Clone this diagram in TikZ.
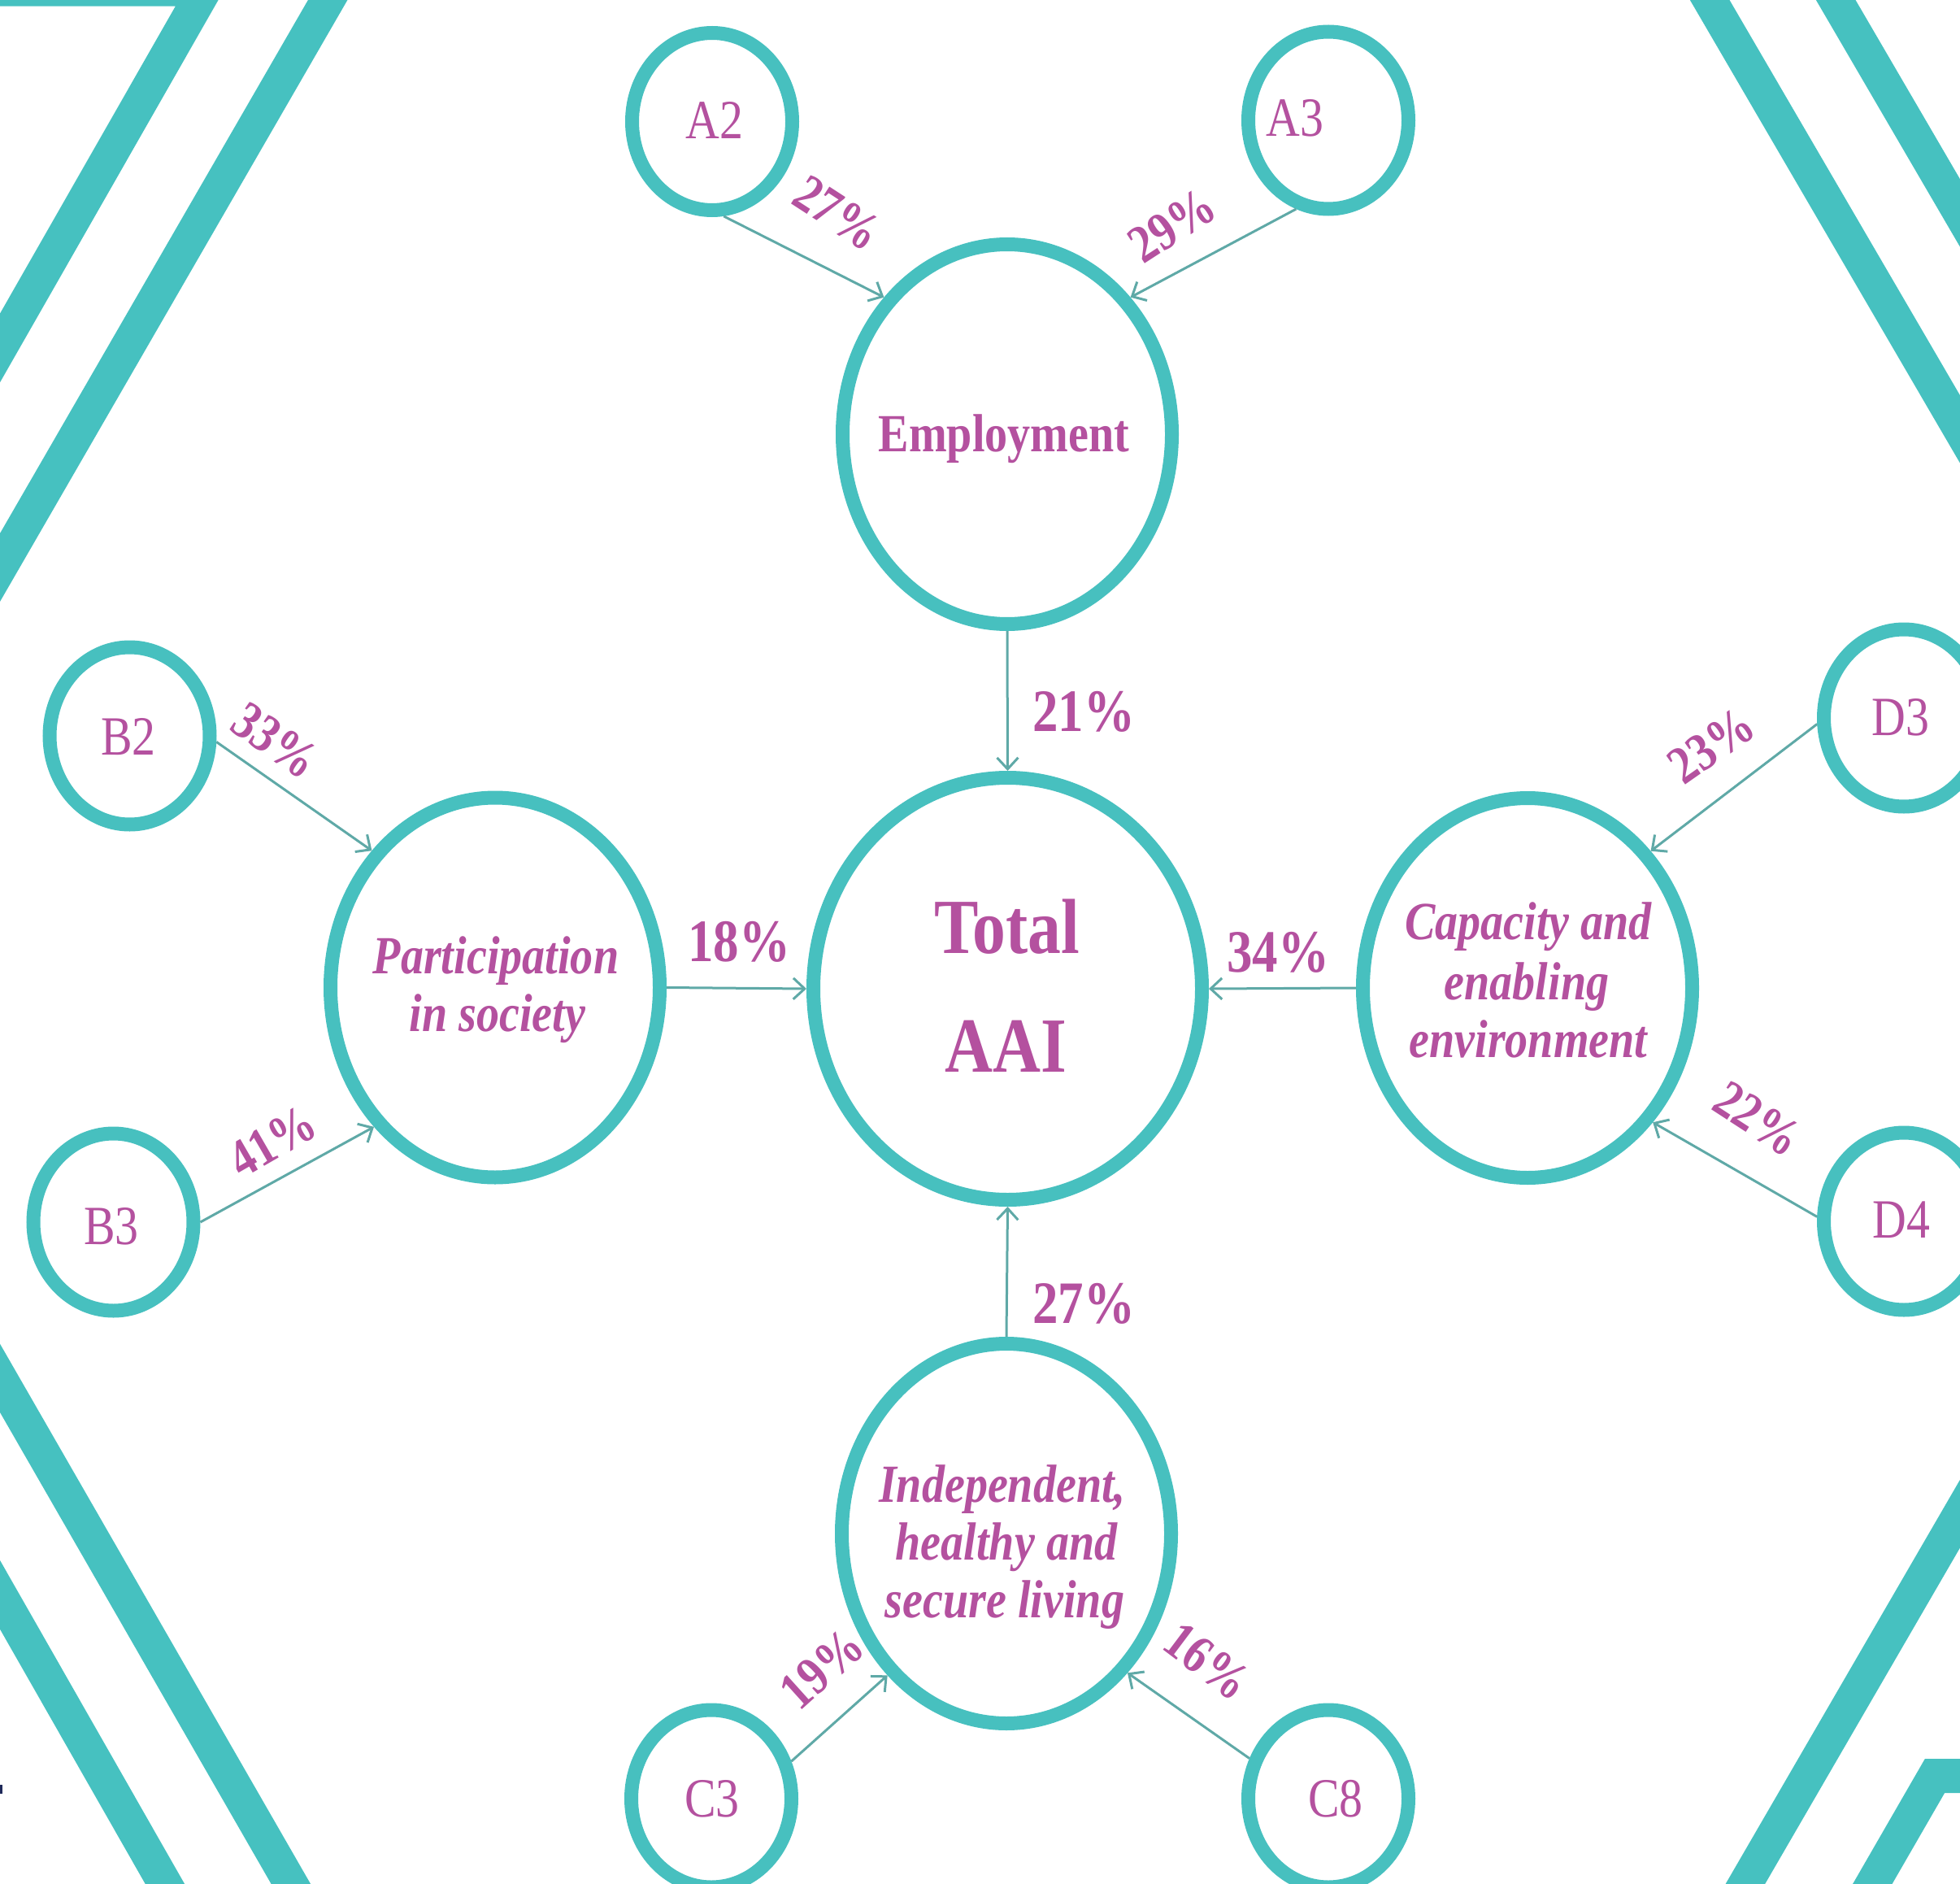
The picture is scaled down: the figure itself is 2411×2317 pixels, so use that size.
\documentclass[tikz,border=0pt]{standalone}
\usepackage{fontspec}
\setmainfont{Liberation Serif}[FakeStretch=0.85]
\usetikzlibrary{shapes.geometric,arrows.meta}
\definecolor{tealband}{HTML}{46C1C0}
\definecolor{ringcol}{HTML}{47C0BF}
\definecolor{mag}{HTML}{B4519F}
\definecolor{arrcol}{HTML}{5FA9A7}
\definecolor{navytick}{HTML}{1F2A5A}
\begin{document}
\begin{tikzpicture}[x=0.5pt,y=-0.5pt,
  bg/.style={draw=tealband,line width=21pt,line join=miter,miter limit=20},
  ring/.style={ellipse,draw=ringcol,line width=8.5pt,inner sep=0pt,fill=white},
  smallring/.style={ring,minimum width=98.5pt,minimum height=109pt},
  midring/.style={ring,minimum width=202.5pt,minimum height=233.5pt},
  bigring/.style={ring,minimum width=239pt,minimum height=259.5pt},
  conn/.style={draw=arrcol,line width=1.5pt,-{Straight Barb[length=7pt,width=13pt]}},
  codelbl/.style={text=mag,inner sep=0pt,anchor=base,font=\fontsize{34}{40}\selectfont},
  cattxt/.style={text=mag,inner sep=0pt,anchor=base,font=\fontsize{33}{40}\selectfont\bfseries\itshape},
  emptxt/.style={text=mag,inner sep=0pt,anchor=base,font=\fontsize{33}{40}\selectfont\bfseries},
  totaltxt/.style={text=mag,inner sep=0pt,anchor=base,font=\fontsize{48}{56}\selectfont\bfseries},
  pct/.style={text=mag,inner sep=0pt,anchor=base,font=\fontsize{37}{42}\selectfont\bfseries},
  rpct/.style={text=mag,inner sep=0pt,font=\fontsize{33}{38}\selectfont\bfseries}]
\useasboundingbox (0,0) rectangle (2411,2317);
% background bands
\begin{scope}
\clip (0,0) rectangle (2411,2317);
\draw[bg] (-100,-13.3) -- (252,-13.3) -- (-100,603);
\draw[bg] (450,-81) -- (-100,871);
\draw[bg] (-100,1521) -- (420,2425);
\draw[bg] (-100,1786) -- (260,2417);
\draw[bg] (2060,-74) -- (2470,629);
\draw[bg] (2215,-74) -- (2470,363);
\draw[bg] (2470,1760) -- (2090,2415);
\draw[bg] (2245,2418) -- (2380,2184) -- (2500,2184);
\fill[navytick] (0,2195) rectangle (3,2206);
\end{scope}
% rings
\node[midring] (Emp) at (1239,534) {};
\node[bigring] (Tot) at (1239.5,1216) {};
\node[midring] (Part) at (609,1214.5) {};
\node[midring] (Cap) at (1879,1215) {};
\node[midring] (Ind) at (1238,1886) {};
\node[smallring] (A2) at (876,149.5) {};
\node[smallring] (A3) at (1634,148) {};
\node[smallring] (B2) at (159.5,905) {};
\node[smallring] (B3) at (139.5,1503) {};
\node[smallring] (D3) at (2342,883) {};
\node[smallring] (D4) at (2342,1502) {};
\node[smallring] (C3) at (875,2212) {};
\node[smallring] (C8) at (1634,2212) {};
% texts
\node[emptxt] (tEmp) at (1235,555) {Employment};
\node[totaltxt] (tTot1) at (1239,1172) {Total};
\node[totaltxt] (tTot2) at (1237,1318) {AAI};
\node[cattxt] (tPart1) at (610,1197) {Participation};
\node[cattxt] (tPart2) at (612,1268) {in society};
\node[cattxt] (tCap1) at (1880,1155) {Capacity and};
\node[cattxt] (tCap2) at (1878,1229) {enabling};
\node[cattxt] (tCap3) at (1880,1300) {environment};
\node[cattxt] (tInd1) at (1233,1847) {Independent,};
\node[cattxt] (tInd2) at (1238,1918) {healthy and};
\node[cattxt] (tInd3) at (1236,1989) {secure living};
\node[codelbl] (tA2) at (879,171) {A2};
\node[codelbl] (tA3) at (1593,168) {A3};
\node[codelbl] (tB2) at (158,928) {B2};
\node[codelbl] (tB3) at (137,1530) {B3};
\node[codelbl] (tD3) at (2338,904) {D3};
\node[codelbl] (tD4) at (2339,1522) {D4};
\node[codelbl] (tC3) at (876,2234) {C3};
\node[codelbl] (tC8) at (1643,2234) {C8};
% connectors
\draw[conn] (A2.-83) -- (Emp.132);
\draw[conn] (A3.-110) -- (Emp.48);
\draw[conn] (Emp.south) -- (Tot.north);
\draw[conn] (Part.east) -- (Tot.west);
\draw[conn] (Cap.west) -- (Tot.east);
\draw[conn] (Ind.north) -- (Tot.south);
\draw[conn] (B2.-4) -- (Part.132);
\draw[conn] (B3.east) -- (Part.229);
\draw[conn] (D3.184) -- (Cap.48.5);
\draw[conn] (D4.177) -- (Cap.-47.7);
\draw[conn] (C3.25) -- (Ind.230);
\draw[conn] (C8.153) -- (Ind.-49);
% percentages
\node[rpct,rotate=-33] (p27a) at (1030,262) {27\%};
\node[rpct,rotate=33] (p29) at (1442,277) {29\%};
\node[pct] (p21) at (1333,899) {21\%};
\node[pct] (p18) at (909,1182) {18\%};
\node[pct] (p34) at (1572,1195) {34\%};
\node[pct] (p27b) at (1333,1627) {27\%};
\node[rpct,rotate=-35] (p33) at (339,911) {33\%};
\node[rpct,rotate=30] (p41) at (335,1404) {41\%};
\node[rpct,rotate=35] (p23) at (2105,917) {23\%};
\node[rpct,rotate=-33] (p22) at (2162,1376) {22\%};
\node[rpct,rotate=42] (p19) at (1011,2052) {19\%};
\node[rpct,rotate=-37] (p16) at (1485,2043) {16\%};
\end{tikzpicture}
\end{document}
